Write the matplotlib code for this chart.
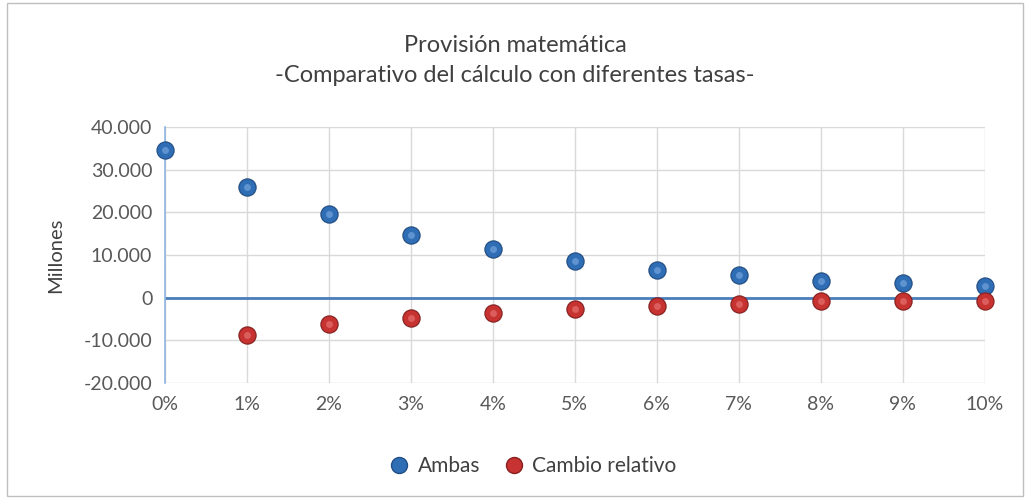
import matplotlib
matplotlib.use("Agg")
import matplotlib.pyplot as plt
from matplotlib.patches import Rectangle
from matplotlib.lines import Line2D

plt.rcParams['font.family'] = ['Lato', 'DejaVu Sans']

tasas = [0, 1, 2, 3, 4, 5, 6, 7, 8, 9, 10]
tick_labels = ["0%", "1%", "2%", "3%", "4%", "5%", "6%", "7%", "8%", "9%", "10%"]
ambas = [34600, 25900, 19500, 14600, 11300, 8500, 6600, 5200, 4000, 3400, 2800]
tasas_cambio = [1, 2, 3, 4, 5, 6, 7, 8, 9, 10]
cambio_relativo = [-8700, -6100, -4700, -3500, -2700, -2050, -1550, -800, -750, -750]
y_ticks = [-20000, -10000, 0, 10000, 20000, 30000, 40000]
y_tick_labels = ["-20.000", "-10.000", "0", "10.000", "20.000", "30.000", "40.000"]

fig = plt.figure(figsize=(10.30, 5.01), dpi=100)
fig.patches.append(Rectangle((0.007, 0.01), 0.986, 0.985, transform=fig.transFigure,
                             fill=False, edgecolor="#BFBFBF", linewidth=1.0))
ax = fig.add_axes([0.160, 0.2355, 0.796, 0.511])

ax.set_xlim(0, 10)
ax.set_ylim(-20000, 40000)
ax.set_xticks(tasas)
ax.set_xticklabels(tick_labels)
ax.set_yticks(y_ticks)
ax.set_yticklabels(y_tick_labels)
ax.grid(True, color="#D9D9D9", linewidth=1.0)
ax.set_axisbelow(True)
for s in ["top", "right", "bottom"]:
    ax.spines[s].set_visible(False)
ax.spines["left"].set_color("#8EB4E3")
ax.spines["left"].set_linewidth(1.2)
ax.axhline(0, color="#4A7EBB", linewidth=2.0, zorder=2)
ax.tick_params(axis="x", length=0, colors="#595959", labelsize=14, pad=9)
ax.tick_params(axis="y", length=0, colors="#595959", labelsize=14, pad=9)
ax.set_ylabel("Millones", fontsize=14.5, color="#404040", labelpad=14)


def spheres(x, y, base, dark, light, label):
    ax.plot(x, y, linestyle="none", marker="o", markersize=13.5, color="#00000030",
            markeredgewidth=0, zorder=3)
    ax.plot(x, y, linestyle="none", marker="o", markersize=12.3, color=base,
            markeredgecolor=dark, markeredgewidth=0.8, zorder=4, clip_on=False, label=label)
    ax.plot(x, y, linestyle="none", marker="o", markersize=5, color=light,
            markeredgewidth=0, alpha=0.5, zorder=5, clip_on=False)


spheres(tasas, ambas, "#2F6EB5", "#1F4E85", "#8DB8EC", "Ambas")
spheres(tasas_cambio, cambio_relativo, "#C63331", "#8A1E1E", "#F08A88", "Cambio relativo")

fig.suptitle("Provisión matemática\n-Comparativo del cálculo con diferentes tasas-",
             y=0.93, fontsize=17, color="#404040", linespacing=1.55)

handles = [Line2D([], [], linestyle="none", marker="o", markersize=11.5, color="#2F6EB5",
                  markeredgecolor="#1F4E85"),
           Line2D([], [], linestyle="none", marker="o", markersize=11.5, color="#C63331",
                  markeredgecolor="#8A1E1E")]
fig.legend(handles, ["Ambas", "Cambio relativo"], loc="center", bbox_to_anchor=(0.512, 0.07),
           ncol=2, frameon=False, fontsize=15, handletextpad=-0.1, columnspacing=0.6,
           labelcolor="#404040")

fig.savefig("out.png", dpi=100)
